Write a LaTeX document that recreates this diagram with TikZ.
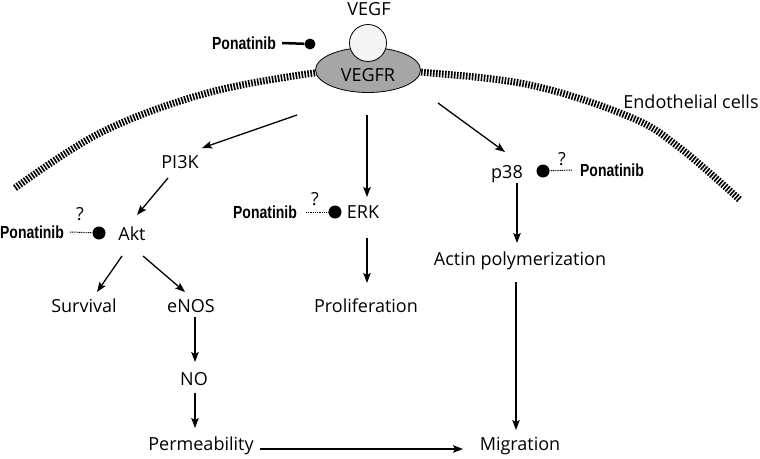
\documentclass[tikz,border=0pt]{standalone}
\usepackage{fontspec}
\setmainfont{Open Sans}
\newfontfamily\ponafamily[FakeStretch=0.8]{Liberation Sans}
\usetikzlibrary{arrows.meta,shapes.geometric}
\newcommand{\labelfont}{\fontsize{18}{21}\selectfont}
\newcommand{\ponafont}{\ponafamily\bfseries\fontsize{17.5}{19}\selectfont}

\tikzset{
	lbl/.style={font=\labelfont, inner sep=0pt, text height=14pt, text depth=4pt},
	pona/.style={font=\ponafont, inner sep=0pt},
	arr/.style={line width=1.3pt, -{Stealth[length=10pt, width=7.5pt, inset=2pt]}},
	blocker/.style={circle, fill=black, inner sep=0pt, minimum size=12pt},
	dotline/.style={line width=1pt, dash pattern=on 1pt off 0.8pt},
	membrane/.style={line width=7pt, dash pattern=on 1.6pt off 1.4pt},
}

\begin{document}
\begin{tikzpicture}[x=1pt, y=-1pt]
			%%%%% START %%%%%
			\useasboundingbox (0, 0) rectangle (760, 458);
			
			% cell membrane
			\draw[membrane] plot[smooth, tension=0.6] coordinates {(15, 188) (100, 133) (200, 95) (300, 75) (368, 69) (420, 72) (530, 85) (630, 117) (680, 148) (740, 200)};
			\node[lbl] (cells) at (691, 103) {Endothelial cells};
			
			% receptor
			\node[lbl] (vegf) at (369, 10) {VEGF};
			\node[ellipse, draw, line width=0.8pt, fill=black!35, minimum width=105pt, minimum height=45pt, inner sep=0pt, font=\labelfont, text height=23pt, text depth=0pt] (vegfr) at (368, 70) {VEGFR};
			\node[circle, draw, line width=0.8pt, fill=black!4, minimum size=37pt] (vegfcirc) at (368, 43) {};
			
			\node[pona] (pona1) at (244, 43) {Ponatinib};
			\node[blocker, minimum size=11pt] (blk1) at (310, 44) {};
			\draw[line width=2.5pt] ([xshift=6pt]pona1.east) -- (blk1);
			
			% PI3K branch
			\node[lbl] (pi3k) at (180, 163) {PI3K};
			\node[lbl] (akt) at (132, 235) {Akt};
			\node[lbl] (survival) at (84, 307) {Survival};
			\node[lbl] (enos) at (191, 307) {eNOS};
			\node[lbl] (no) at (194, 380) {NO};
			\node[lbl] (perm) at (201, 445) {Permeability};
			
			\node[pona] (pona2) at (32, 232) {Ponatinib};
			\node[blocker, minimum size=13pt] (blk2) at (99, 233) {};
			\node[lbl] (q2) at (80, 215) {?};
			\draw[dotline] ([xshift=6pt]pona2.east) -- (blk2);
			
			% ERK branch
			\node[lbl] (erk) at (363, 213) {ERK};
			\node[lbl] (prolif) at (366, 307) {Proliferation};
			
			\node[pona] (pona3) at (265, 212) {Ponatinib};
			\node[blocker, minimum size=13pt] (blk3) at (335, 212) {};
			\node[lbl] (q3) at (315, 200) {?};
			\draw[dotline] ([xshift=9pt]pona3.east) -- (blk3);
			
			% p38 branch
			\node[lbl] (p38) at (507, 173) {p38};
			\node[lbl] (actin) at (520, 260) {Actin polymerization};
			\node[lbl] (migr) at (520, 445) {Migration};
			
			\node[pona] (pona4) at (612, 170) {Ponatinib};
			\node[blocker, minimum size=13pt] (blk4) at (543, 171) {};
			\node[lbl] (q4) at (562, 160) {?};
			\draw[dotline] ([xshift=-8pt]pona4.west) -- (blk4);
			
			% arrows
			\draw[arr] ([shift={(-71, 45)}]vegfr.center) -- ([shift={(22, -15)}]pi3k.center);
			\draw[arr] ([shift={(-1, 45)}]vegfr.center) -- ([shift={(4, -16)}]erk.center);
			\draw[arr] ([shift={(70, 33)}]vegfr.center) -- ([shift={(-2, -21)}]p38.center);
			\draw[arr] ([shift={(-12, 15)}]pi3k.center) -- ([shift={(5, -20)}]akt.center);
			\draw[arr] ([shift={(-10, 21)}]akt.center) -- ([shift={(13, -15)}]survival.center);
			\draw[arr] ([shift={(11, 21)}]akt.center) -- ([shift={(-6, -15)}]enos.center);
			\draw[arr] ([shift={(4, 25)}]erk.center) -- ([shift={(1, -24)}]prolif.center);
			\draw[arr] ([shift={(10, 10)}]p38.center) -- ([shift={(-3, -17)}]actin.center);
			\draw[arr] ([shift={(4, 10)}]enos.center) -- ([shift={(1, -18)}]no.center);
			\draw[arr] ([shift={(1, 13)}]no.center) -- ([shift={(-6, -17)}]perm.center);
			\draw[arr] ([shift={(59, 4)}]perm.center) -- ([shift={(-57, 4)}]migr.center);
			\draw[arr] ([shift={(-4, 22)}]actin.center) -- ([shift={(-4, -15)}]migr.center);
			
			%%%%% END %%%%%
\end{tikzpicture}
\end{document}
